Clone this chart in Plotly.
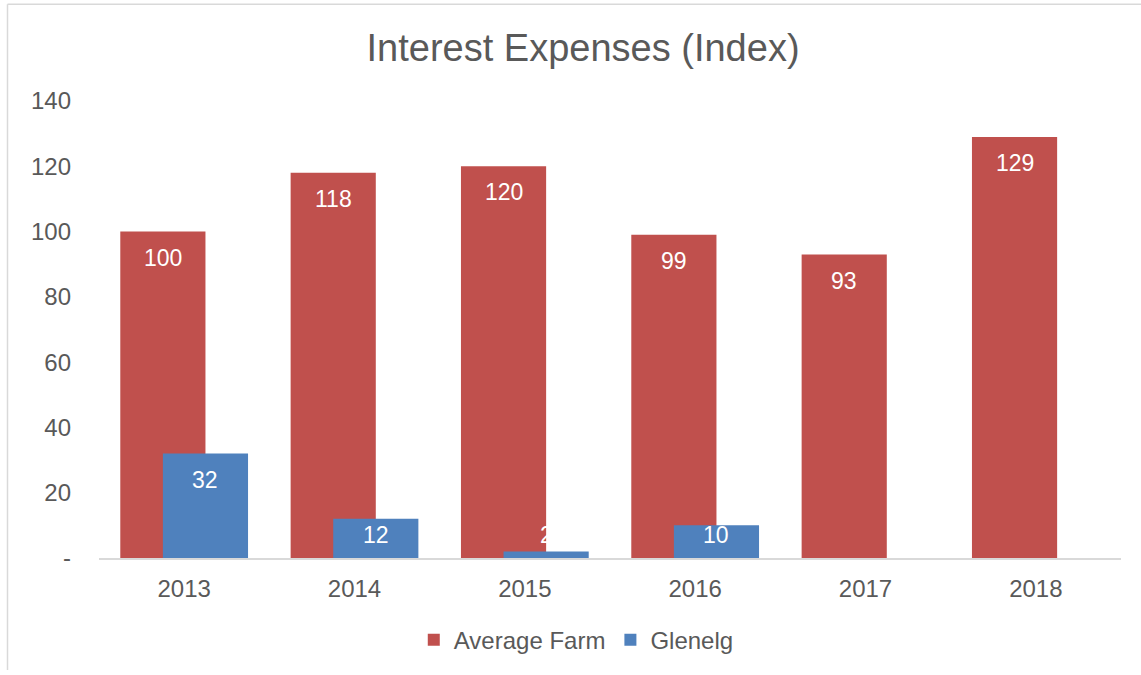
import plotly.graph_objects as go

years = ["2013", "2014", "2015", "2016", "2017", "2018"]
average_farm = [100, 118, 120, 99, 93, 129]
glenelg = [32, 12, 2, 10, None, None]
y_tickvals = [0, 20, 40, 60, 80, 100, 120, 140]
y_ticktext = ["-", "20", "40", "60", "80", "100", "120", "140"]

RED = "#C0504D"
BLUE = "#4F81BD"
GREY_TXT = "#595959"
LINE = "#D9D9D9"
FONT = "Liberation Sans, Arial, sans-serif"

fig = go.Figure()
fig.add_trace(go.Bar(
    x=years, y=average_farm, name="Average Farm",
    marker=dict(color=RED, line=dict(width=0)),
    width=0.5, offset=-0.375, hoverinfo="skip",
))
fig.add_trace(go.Bar(
    x=years, y=glenelg, name="Glenelg",
    marker=dict(color=BLUE, line=dict(width=0)),
    width=0.5, offset=-0.125, hoverinfo="skip",
))

annotations = []
for i, v in enumerate(average_farm):
    annotations.append(dict(
        x=i - 0.125, y=max(v - 8, 7), xref="x", yref="y",
        text=str(v), showarrow=False,
        font=dict(family=FONT, size=23, color="white"),
        xanchor="center", yanchor="middle",
    ))
for i, v in enumerate(glenelg):
    if v is None:
        continue
    annotations.append(dict(
        x=i + 0.125, y=max(v - 8, 7), xref="x", yref="y",
        text=str(v), showarrow=False,
        font=dict(family=FONT, size=23, color="white"),
        xanchor="center", yanchor="middle",
    ))

fig.update_layout(
    width=1141, height=675,
    margin=dict(l=99, r=20, t=101, b=113),
    paper_bgcolor="white", plot_bgcolor="white",
    barmode="overlay",
    font=dict(family=FONT, size=24, color=GREY_TXT),
    title=dict(
        text="Interest Expenses (Index)",
        font=dict(family=FONT, size=38, color=GREY_TXT),
        x=0.511, xanchor="center", xref="container",
        y=0.929, yanchor="middle", yref="container",
    ),
    xaxis=dict(
        type="category", range=[-0.5, 5.5],
        showline=True, linecolor=LINE, linewidth=1.5,
        showgrid=False, ticks="", ticklabelstandoff=8,
        tickfont=dict(family=FONT, size=24, color=GREY_TXT),
        zeroline=False,
    ),
    yaxis=dict(
        range=[0, 140], tickvals=y_tickvals, ticktext=y_ticktext,
        showgrid=False, showline=False, zeroline=False, ticks="",
        ticklabelstandoff=27,
        tickfont=dict(family=FONT, size=24, color=GREY_TXT),
    ),
    legend=dict(
        orientation="h", x=0.467, xanchor="center",
        y=-0.18, yanchor="middle",
        font=dict(family=FONT, size=24, color=GREY_TXT),
        itemsizing="constant",
    ),
    annotations=annotations,
    shapes=[
        dict(type="line", xref="paper", yref="paper",
             x0=(7.5 - 99) / 1022, x1=(1141 - 99) / 1022,
             y0=(562 - 3.5) / 461, y1=(562 - 3.5) / 461,
             line=dict(color=LINE, width=1.5), layer="below"),
        dict(type="line", xref="paper", yref="paper",
             x0=(7.5 - 99) / 1022, x1=(7.5 - 99) / 1022,
             y0=(562 - 3.5) / 461, y1=(562 - 675) / 461,
             line=dict(color=LINE, width=1.5), layer="below"),
    ],
)

fig.write_html("out.html")
